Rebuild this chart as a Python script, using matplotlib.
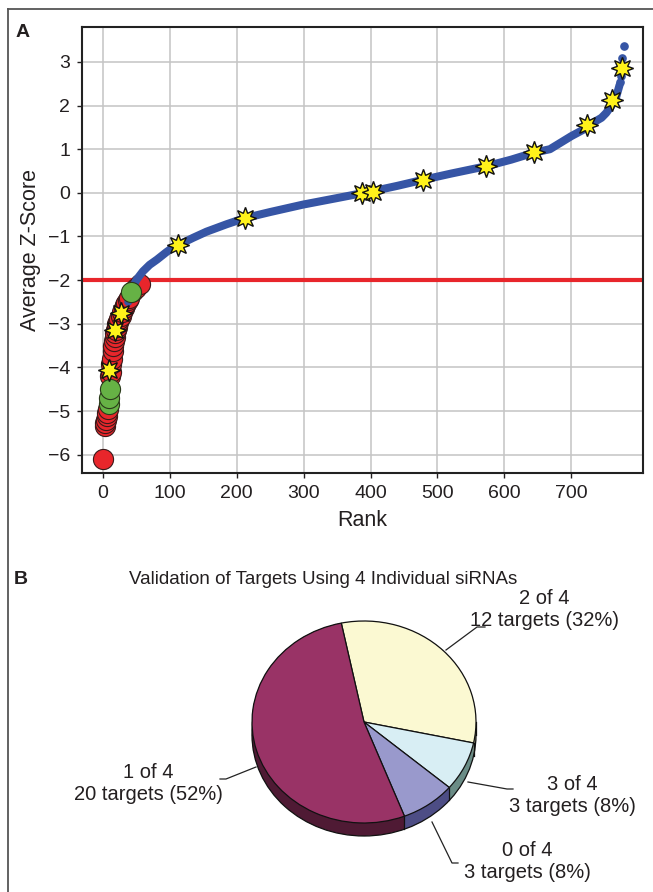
import numpy as np
import matplotlib
matplotlib.use("Agg")
import matplotlib.pyplot as plt
from matplotlib.patches import Ellipse
from matplotlib.lines import Line2D

plt.rcParams['font.family'] = ['Liberation Sans', 'DejaVu Sans']

W, H = 653, 892
TXT = '#231f20'

# ---- panel A data: ranked average z-scores ----
curve_rank = [38, 45, 51, 60, 70, 81, 95, 105, 115, 135, 155, 185, 212, 250, 299,
              350, 387, 404, 440, 479, 520, 573, 610, 644, 668, 700, 717, 724,
              745, 752, 760, 767, 772]
curve_z = [-2.5, -2.15, -1.98, -1.8, -1.65, -1.53, -1.36, -1.25, -1.18, -1.03, -0.89,
           -0.72, -0.58, -0.44, -0.27, -0.12, -0.01, 0.04, 0.16, 0.30, 0.44, 0.61,
           0.76, 0.92, 1.0, 1.3, 1.44, 1.53, 1.72, 1.83, 2.0, 2.2, 2.47]
top_rank = [773, 774, 776, 778]
top_z = [2.55, 2.68, 3.08, 3.37]

red_rank = [1, 3, 4, 5, 6, 7, 8, 11, 12, 13, 14, 15, 16, 17, 18, 19, 20, 21, 22, 23,
            25, 27, 29, 31, 33, 35, 37, 39, 45, 50, 55]
red_z = [-6.1, -5.35, -5.28, -5.2, -5.12, -5.05, -4.95, -4.2, -4.1, -3.92, -3.8,
         -3.62, -3.52, -3.4, -3.3, -3.22, -3.15, -3.08, -3.0, -2.95, -2.88, -2.82,
         -2.72, -2.65, -2.58, -2.52, -2.45, -2.4, -2.25, -2.18, -2.1]
green_rank = [9, 10, 11, 42]
green_z = [-4.85, -4.7, -4.5, -2.28]
star_rank = [10, 19, 28, 113, 212, 387, 404, 479, 573, 644, 724, 760, 775]
star_z = [-4.05, -3.15, -2.75, -1.2, -0.58, -0.01, 0.03, 0.30, 0.61, 0.93, 1.56,
          2.13, 2.86]
cutoff = -2

# ---- panel B data ----
pie_labels = ['2 of 4', '3 of 4', '0 of 4', '1 of 4']
pie_counts = [12, 3, 3, 20]
pie_pct = [32, 8, 8, 52]
pie_top = ['#fbf9d2', '#d8eef4', '#9999cc', '#993366']
pie_side = ['#9c9a7e', '#6a8c86', '#4d4d85', '#4f1a34']


def fx(x):
    return x / W


def fy(y):
    return 1 - y / H


fig = plt.figure(figsize=(W / 100, H / 100), dpi=100)

# outer frame
fig.add_artist(Line2D([fx(7.5), fx(7.5)], [0, fy(8.5)], color='#555555', lw=1.3))
fig.add_artist(Line2D([fx(7.5), 1], [fy(8.5), fy(8.5)], color='#555555', lw=1.3))

# ================= panel A =================
ax = fig.add_axes([fx(82), fy(473), fx(643) - fx(82), fy(27) - fy(473)])
ax.set_xlim(-31, 807)
ax.set_ylim(-6.42, 3.8)
ax.set_xticks(range(0, 800, 100))
ax.set_yticks(range(-6, 4))
ax.grid(True, color='#c4c4c4', lw=1.1)
ax.set_axisbelow(True)
for s in ax.spines.values():
    s.set_linewidth(1.5)
    s.set_color('#222222')
ax.tick_params(labelsize=14, length=3.5, width=1, colors=TXT, pad=5)

ax.axhline(cutoff, color='#e8262b', lw=3, zorder=2)
ax.plot(red_rank, red_z, 'o', ms=14.5, mfc='#e8262b', mec='#3a1a1a', mew=0.8, zorder=3)
ax.plot(curve_rank, curve_z, '-', color='#3655a5', lw=5.8, solid_capstyle='round',
        solid_joinstyle='round', zorder=4)
ax.plot(top_rank, top_z, 'o', color='#3655a5', ms=5.2, zorder=4)
ax.plot(green_rank, green_z, 'o', ms=14.5, mfc='#66b245', mec='#2a3a1a', mew=0.8, zorder=5)
ax.plot(star_rank, star_z, ls='none', marker=(8, 1, 0), ms=16, mfc='#fff21a',
        mec='#111111', mew=1, zorder=6)

ax.set_xlabel('Rank', fontsize=15.5, color=TXT, labelpad=6)
ax.set_ylabel('Average Z-Score', fontsize=15.5, color=TXT, labelpad=5)
fig.text(fx(16), fy(37), 'A', fontsize=14, fontweight='bold', color=TXT)

# ================= panel B =================
fig.text(fx(14), fy(584), 'B', fontsize=14, fontweight='bold', color=TXT)
fig.text(fx(323), fy(579), 'Validation of Targets Using 4 Individual siRNAs',
         fontsize=13.5, color=TXT, ha='center', va='center')

cx, cy, rx, ry = 364, 722, 112, 101
pad = 1.4
ax2 = fig.add_axes([fx(cx - pad * rx), fy(cy + pad * ry), 2 * pad * rx / W, 2 * pad * ry / H])
depth = 13 / ry
start = 101.7

# extruded side: stacked copies of the pie
for off in np.linspace(-depth, 0, 16):
    ax2.pie(pie_counts, colors=pie_side, startangle=start, counterclock=False,
            center=(0, off), wedgeprops=dict(linewidth=0))
ax2.add_patch(Ellipse((0, -depth), 2, 2, fill=False, ec='#111111', lw=0.9, zorder=2))
# vertical edges on front side
bounds = start - np.cumsum([0] + pie_counts) / sum(pie_counts) * 360
for a in list(bounds[1:-1]) + [180, 0]:
    t = np.deg2rad(a)
    if np.sin(t) <= 1e-6:
        ax2.plot([np.cos(t), np.cos(t)], [np.sin(t), np.sin(t) - depth],
                 color='#111111', lw=0.9, zorder=3)
wedges, _ = ax2.pie(pie_counts, colors=pie_top, startangle=start, counterclock=False,
                    wedgeprops=dict(linewidth=0.9, edgecolor='#111111'))
for w in wedges:
    w.set_zorder(4)
ax2.set_xlim(-pad, pad)
ax2.set_ylim(-pad, pad)
ax2.set_aspect('auto')
ax2.axis('off')

# labels with leader lines (pixel positions)
label_pos = [(544, 610), (572, 795), (527, 862), (148, 784)]
leaders = [[(446, 650), (477, 627), (485, 627)],
           [(468, 782), (507, 789), (513, 789)],
           [(432, 822), (452, 863), (458, 863)],
           [(256, 767), (226, 779), (220, 779)]]
for lab, n, p, (lx, ly), pts in zip(pie_labels, pie_counts, pie_pct, label_pos, leaders):
    fig.text(fx(lx), fy(ly), f'{lab}\n{n} targets ({p}%)', fontsize=14.5, color=TXT,
             ha='center', va='center', linespacing=1.2)
    xs = [fx(q[0]) for q in pts]
    ys = [fy(q[1]) for q in pts]
    fig.add_artist(Line2D(xs, ys, color='#222222', lw=0.9))

fig.savefig('out.png', dpi=100)
